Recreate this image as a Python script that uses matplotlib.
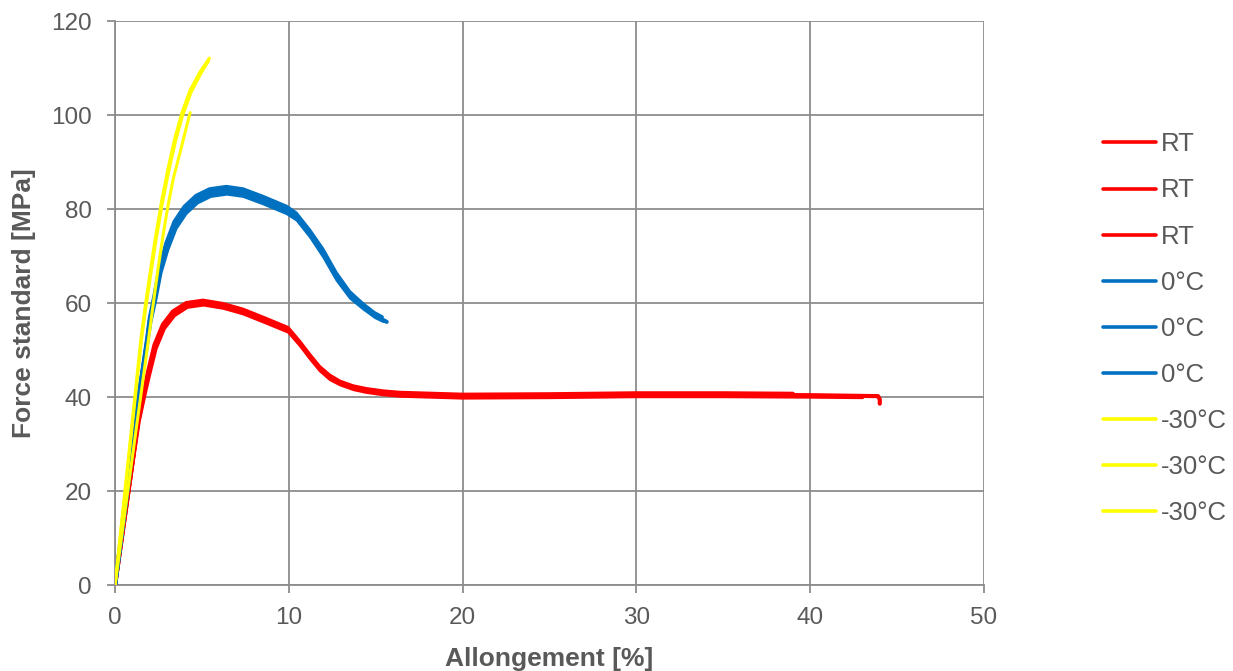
#!/usr/bin/env python
"""Traction curves: force vs elongation at RT, 0 C and -30 C."""

import matplotlib
matplotlib.use("Agg")
import matplotlib.pyplot as plt

plt.rcParams["font.family"] = ["Liberation Sans", "DejaVu Sans"]

# RT specimens (elongation %, stress MPa)
rt1_x = [0, 0.5, 1.0, 1.34, 1.63, 1.92, 2.30, 2.78, 3.36, 4.12, 5.08, 6.23, 7.38, 8.73, 9.97,
         10.64, 11.22, 11.8, 12.37, 12.95, 13.71, 14.48, 15.44, 16.4, 20.0, 25.0, 30.0, 35.0,
         40.0, 43.9, 44.0, 44.0]
rt1_y = [0, 13, 26, 35.1, 40.1, 45.0, 50.7, 55.0, 57.8, 59.6, 60.1, 59.4, 58.2, 56.2, 54.3,
         51.4, 48.6, 46.0, 44.2, 43.0, 42.0, 41.4, 40.9, 40.6, 40.2, 40.3, 40.5, 40.5,
         40.4, 40.2, 39.5, 38.6]
rt2_x = [0, 0.5, 1.0, 1.36, 1.65, 1.95, 2.33, 2.81, 3.4, 4.15, 5.1, 6.25, 7.4, 8.75, 10.0,
         10.68, 11.26, 11.84, 12.4, 12.98, 13.74, 14.5, 15.45, 16.4, 20.0, 25.0, 30.0, 35.0,
         40.0, 43.0]
rt2_y = [0, 13, 26, 34.8, 39.8, 44.6, 50.3, 54.6, 57.4, 59.2, 59.7, 59.0, 57.8, 55.8, 53.9,
         51.0, 48.2, 45.6, 43.8, 42.7, 41.7, 41.1, 40.6, 40.3, 39.9, 40.0, 40.2, 40.2,
         40.1, 40.0]
rt3_x = [0, 0.5, 1.0, 1.32, 1.61, 1.9, 2.27, 2.75, 3.33, 4.1, 5.06, 6.2, 7.35, 8.7, 9.94,
         10.6, 11.18, 11.76, 12.33, 12.92, 13.68, 14.45, 15.42, 16.4, 20.0, 25.0, 30.0, 35.0,
         39.0]
rt3_y = [0, 13, 26, 35.4, 40.4, 45.4, 51.1, 55.4, 58.2, 60.0, 60.5, 59.8, 58.6, 56.6, 54.7,
         51.8, 49.0, 46.4, 44.6, 43.3, 42.3, 41.7, 41.2, 40.9, 40.5, 40.6, 40.8, 40.8,
         40.7]

# 0 degC specimens
c0a_x = [0, 0.7, 1.4, 1.85, 2.01, 2.30, 2.59, 2.97, 3.45, 4.03, 4.70, 5.47, 6.43, 7.38, 8.53,
         9.88, 10.45, 11.22, 11.99, 12.75, 13.52, 14.29, 15.06, 15.63]
c0a_y = [0, 20, 41, 52.0, 56.4, 61.3, 67.0, 72.0, 76.6, 79.8, 82.1, 83.5, 84.0, 83.5, 81.9,
         79.8, 78.4, 74.8, 70.6, 65.6, 61.7, 59.2, 57.1, 56.0]
c0b_x = [0, 0.7, 1.4, 1.86, 2.03, 2.32, 2.61, 3.0, 3.48, 4.06, 4.73, 5.5, 6.45, 7.4, 8.56,
         9.92, 10.5, 11.27, 12.04, 12.8, 13.57, 14.33, 15.0, 15.45]
c0b_y = [0, 20, 41, 51.8, 56.0, 60.8, 66.4, 71.3, 75.9, 79.1, 81.4, 82.8, 83.3, 82.8, 81.2,
         79.1, 77.7, 74.1, 69.8, 64.9, 61.1, 58.8, 57.0, 56.2]
c0c_x = [0, 0.7, 1.4, 1.84, 2.0, 2.28, 2.57, 2.95, 3.42, 4.0, 4.67, 5.44, 6.4, 7.35, 8.5,
         9.85, 10.4, 11.17, 11.94, 12.7, 13.47, 14.24, 14.9, 15.35]
c0c_y = [0, 20, 41, 52.2, 56.8, 61.8, 67.6, 72.7, 77.3, 80.5, 82.8, 84.2, 84.7, 84.2, 82.6,
         80.5, 79.1, 75.5, 71.4, 66.4, 62.4, 59.8, 57.9, 57.0]

# -30 degC specimens
m30a_x = [0, 0.74, 1.48, 1.73, 2.01, 2.30, 2.69, 3.07, 3.45, 3.84, 4.32, 4.89, 5.43]
m30a_y = [0, 26, 52.1, 59.2, 66.3, 73.4, 81.9, 89.0, 95.2, 100.4, 105.3, 109.2, 112.1]
m30b_x = [0, 0.95, 1.92, 2.20, 2.49, 2.78, 3.07, 3.36, 3.74, 4.03, 4.32]
m30b_y = [0, 26, 52.1, 59.9, 67.7, 74.8, 81.2, 86.6, 92.0, 96.3, 100.5]
m30c_x = [0, 0.76, 1.52, 1.77, 2.05, 2.34, 2.73, 3.11, 3.49, 3.88, 4.36, 4.9, 5.38]
m30c_y = [0, 26, 52.1, 59.0, 66.0, 73.0, 81.4, 88.4, 94.6, 99.8, 104.7, 108.6, 111.5]

series = [
    (rt1_x, rt1_y, "RT", "#ff0000", 3.0),
    (rt2_x, rt2_y, "RT", "#ff0000", 3.0),
    (rt3_x, rt3_y, "RT", "#ff0000", 3.0),
    (c0a_x, c0a_y, "0°C", "#0070c0", 3.0),
    (c0b_x, c0b_y, "0°C", "#0070c0", 3.0),
    (c0c_x, c0c_y, "0°C", "#0070c0", 3.0),
    (m30a_x, m30a_y, "-30°C", "#ffff00", 2.2),
    (m30b_x, m30b_y, "-30°C", "#ffff00", 2.2),
    (m30c_x, m30c_y, "-30°C", "#ffff00", 2.2),
]

x_ticks = [0, 10, 20, 30, 40, 50]
y_ticks = [0, 20, 40, 60, 80, 100, 120]

grey = "#8c8c8c"
text_col = "#595959"

fig = plt.figure(figsize=(12.33, 6.71), dpi=100)
ax = fig.add_axes([0.0933, 0.128, 0.7048, 0.8407])

handles = []
for x, y, label, colour, lw in series:
    (ln,) = ax.plot(x, y, color=colour, lw=lw, label=label,
                    solid_capstyle="round", solid_joinstyle="round", zorder=3)
    handles.append(ln)

ax.set_xlim(0, 50)
ax.set_ylim(0, 120)
ax.set_xticks(x_ticks)
ax.set_yticks(y_ticks)
ax.grid(True, color=grey, lw=1.3, zorder=0)
ax.set_axisbelow(True)
for side in ("top", "right"):
    ax.spines[side].set_visible(False)
for side in ("left", "bottom"):
    ax.spines[side].set_color(grey)
    ax.spines[side].set_linewidth(1.3)
ax.tick_params(axis="both", colors=grey, length=5.5, width=1.3,
               labelsize=17.5, labelcolor=text_col)
ax.tick_params(axis="x", pad=10.5)
ax.tick_params(axis="y", pad=11)

ax.set_xlabel("Allongement [%]", fontsize=19, fontweight="bold",
              color=text_col, labelpad=13)
ax.set_ylabel("Force standard [MPa]", fontsize=19, fontweight="bold",
              color=text_col, labelpad=11)

leg = fig.legend(handles=handles, loc="center left",
                 bbox_to_anchor=(0.876, 0.51), frameon=False,
                 fontsize=18.5, handlelength=2.06, handletextpad=0.2,
                 labelspacing=0.86)
for t in leg.get_texts():
    t.set_color(text_col)
for ln in leg.get_lines():
    ln.set_linewidth(2.6)

fig.savefig("out.png", dpi=100)
